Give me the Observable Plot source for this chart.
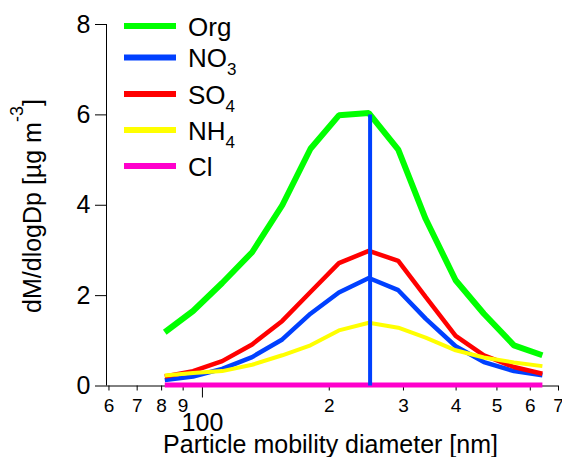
<!DOCTYPE html>
<html>
<head>
<meta charset="utf-8">
<script src="https://cdn.jsdelivr.net/npm/d3@7"></script>
<script src="https://cdn.jsdelivr.net/npm/@observablehq/plot@0.6"></script>
<style>
  body { margin: 0; background: #fff; }
  #chart { position: relative; width: 562px; height: 457px; }
</style>
</head>
<body>
<div id="chart"></div>
<script>
// ---- data ----
const diameter = [81.4, 95.0, 111.4, 131.2, 154.7, 180.5, 210.8, 248.3, 291.6, 338.6, 399, 465.6, 548.8, 641];
const org = [1.19, 1.66, 2.28, 2.96, 4.00, 5.25, 5.99, 6.04, 5.23, 3.70, 2.34, 1.60, 0.90, 0.68];
const no3 = [0.13, 0.21, 0.38, 0.64, 1.03, 1.60, 2.07, 2.39, 2.12, 1.49, 0.88, 0.53, 0.33, 0.24];
const so4 = [0.21, 0.33, 0.55, 0.92, 1.44, 2.08, 2.72, 2.99, 2.77, 1.97, 1.11, 0.68, 0.42, 0.27];
const nh4 = [0.23, 0.29, 0.33, 0.47, 0.68, 0.90, 1.23, 1.40, 1.29, 1.07, 0.79, 0.63, 0.52, 0.44];
const cl  = [0.02, 0.02, 0.02, 0.02, 0.02, 0.02, 0.02, 0.02, 0.02, 0.02, 0.02, 0.02, 0.02, 0.02];
const seriesNames = ["Org", "NO3", "SO4", "NH4", "Cl"];
const legendMain = ["Org", "NO", "SO", "NH", "Cl"];
const legendSub = ["", "3", "4", "4", ""];
const modeDiameter = [250];
const modePeak = 6.0;
const xDomain = [59.2, 700];
const yDomain = [0, 8];
const yTicks = [0, 2, 4, 6, 8];
const xMinorTicks = [60, 70, 80, 90, 200, 300, 400, 500, 600, 700];
const xMinorLabels = ["6", "7", "8", "9", "2", "3", "4", "5", "6", "7"];
const xMajorTicks = [100];
const xMajorLabels = ["100"];
const xTitle = "Particle mobility diameter [nm]";
const yTitleMain = "dM/dlogDp [\u00b5g m";
const yTitleSup = "-3";
const yTitleEnd = "]";

// ---- styles ----
const colors = ["#00ff00", "#0040ff", "#ff0000", "#ffff00", "#ff00cc"];
const widths = [6, 4.5, 4.5, 4, 5];
const font = "'Liberation Sans', Arial, Helvetica, sans-serif";

const seriesValues = [org, no3, so4, nh4, cl];
const table = seriesNames.flatMap((name, k) =>
  seriesValues[k].map((v, i) => ({series: name, d: diameter[i], v}))
);

const lines = seriesNames.map((name, k) =>
  Plot.line(table.filter(r => r.series === name), {
    x: "d", y: "v",
    stroke: colors[k], strokeWidth: widths[k],
    strokeLinejoin: "miter", strokeLinecap: "butt"
  })
);

const plot = Plot.plot({
  width: 562,
  height: 457,
  marginLeft: 106,
  marginRight: 4,
  marginTop: 24,
  marginBottom: 71.5,
  style: {fontFamily: font, color: "#000", background: "#fff", overflow: "visible"},
  x: {type: "log", domain: xDomain, axis: null},
  y: {domain: yDomain, axis: null},
  marks: [
    Plot.ruleY([yDomain[0]], {stroke: "#000", strokeWidth: 1}),
    Plot.ruleX([xDomain[0]], {y1: yDomain[0], y2: yDomain[1], stroke: "#000", strokeWidth: 1}),
    Plot.axisY(yTicks, {tickSize: 11, tickPadding: 5, fontSize: 25, label: null,
      text: d => String(d)}),
    Plot.axisX(xMinorTicks, {tickSize: 5, tickPadding: 7.5, fontSize: 19, label: null,
      text: d => xMinorLabels[xMinorTicks.indexOf(d)]}),
    Plot.axisX(xMajorTicks, {tickSize: 12, tickPadding: 15.5, fontSize: 25, label: null,
      text: d => xMajorLabels[xMajorTicks.indexOf(d)]}),
    ...lines,
    Plot.ruleX(modeDiameter, {y1: 0, y2: modePeak, stroke: colors[1], strokeWidth: 4}),
    Plot.text([xTitle], {frameAnchor: "bottom", dy: 58.5, dx: -2, fontSize: 25, lineAnchor: "middle", fill: "#000"})
  ]
});

document.getElementById("chart").appendChild(plot);

const svg = d3.select(plot);

// y-axis title with superscript
const yt = svg.append("text")
  .attr("transform", "translate(41,206) rotate(-90)")
  .attr("text-anchor", "middle")
  .attr("font-family", font)
  .attr("font-size", 25)
  .attr("fill", "#000");
yt.append("tspan").text(yTitleMain);
yt.append("tspan").attr("font-size", 18).attr("dy", -18).text(yTitleSup);
yt.append("tspan").attr("font-size", 25).attr("dy", 18).text(yTitleEnd);

// legend
const legendY = [26, 57.5, 94, 130, 166];
const lg = svg.append("g").attr("font-family", font).attr("fill", "#000").attr("text-anchor", "start");
seriesNames.forEach((name, k) => {
  const y = legendY[k];
  lg.append("line")
    .attr("x1", 124).attr("x2", 176).attr("y1", y).attr("y2", y)
    .attr("stroke", colors[k]).attr("stroke-width", 6);
  const t = lg.append("text").attr("x", 188).attr("y", y + 9.5).attr("font-size", 26)
    .attr("text-anchor", "start");
  t.append("tspan").text(legendMain[k]);
  if (legendSub[k]) t.append("tspan").attr("font-size", 17).attr("dy", 8).text(legendSub[k]);
});
</script>
</body>
</html>
